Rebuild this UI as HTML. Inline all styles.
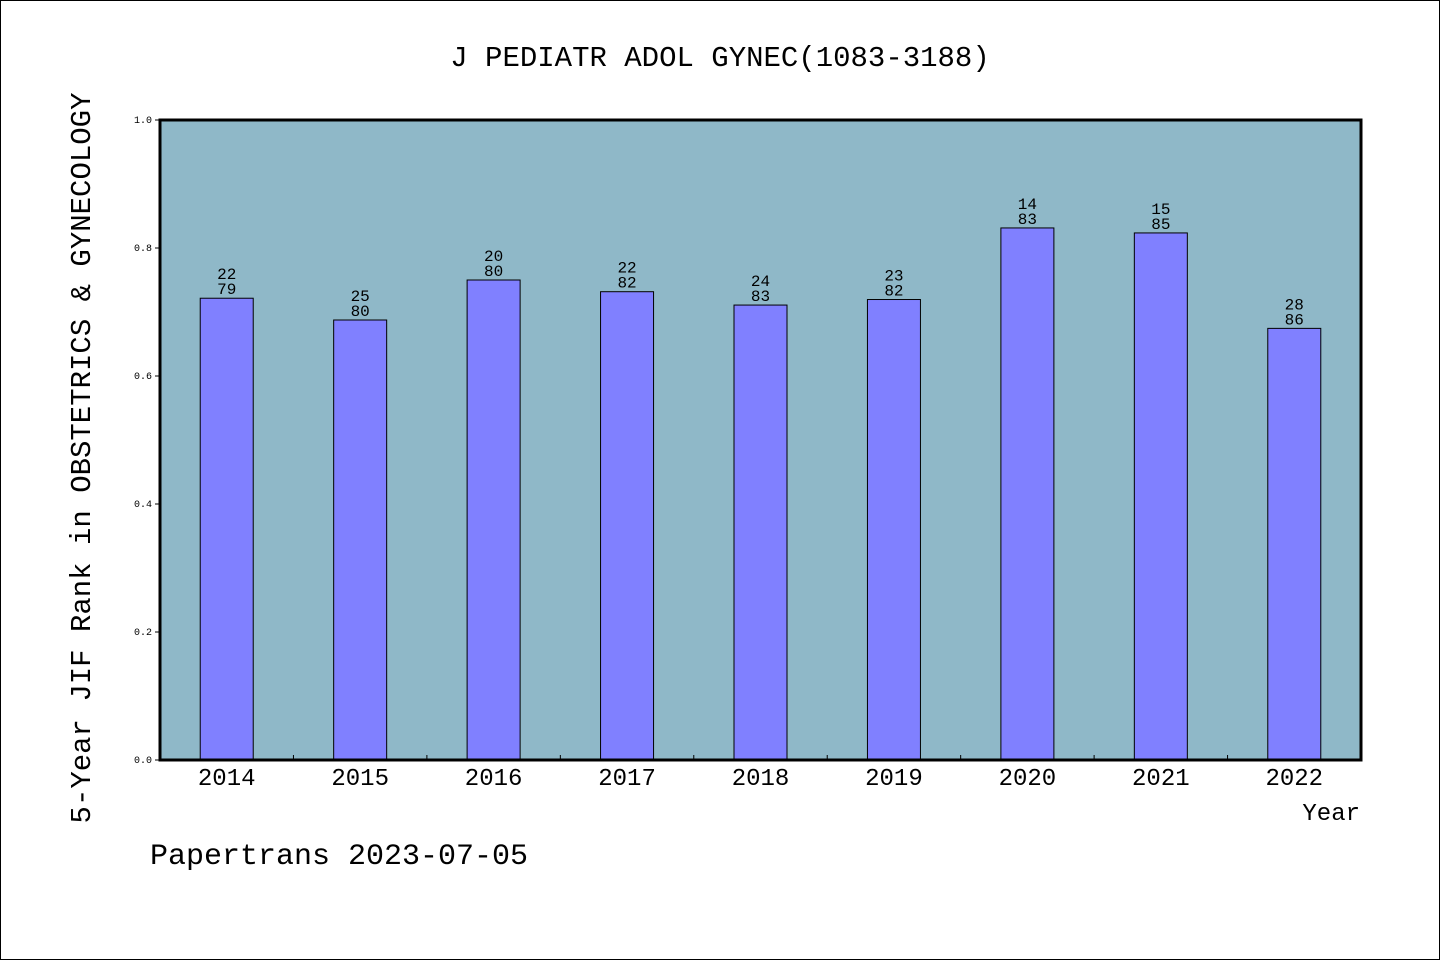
<!DOCTYPE html>
<html><head><meta charset="utf-8"><style>
html,body{margin:0;padding:0;background:#fff}
svg{display:block}
text{font-family:"Liberation Mono","DejaVu Sans Mono",monospace;fill:#000}
</style></head><body>
<svg id="chart" width="1440" height="960" xmlns="http://www.w3.org/2000/svg">
<rect x="0.5" y="0.5" width="1439" height="959" fill="#fff" stroke="#000"/>
<text x="720" y="66" text-anchor="middle" font-size="29">J PEDIATR ADOL GYNEC(1083-3188)</text>
<rect x="160" y="120" width="1201" height="640" fill="#8fb8c8"/>
<g id="bars"></g>
<g id="yticks"></g>
<g id="xticks"></g>
<rect x="160" y="120" width="1201" height="640" fill="none" stroke="#000" stroke-width="3"/>
<text transform="translate(90,458) rotate(-90)" text-anchor="middle" font-size="29">5-Year JIF Rank in OBSTETRICS &amp; GYNECOLOGY</text>
<text x="1360" y="820" text-anchor="end" font-size="24">Year</text>
<text x="150" y="864" font-size="30">Papertrans 2023-07-05</text>
</svg>
<script>
const years=["2014","2015","2016","2017","2018","2019","2020","2021","2022"];
const ranks=[22,25,20,22,24,23,14,15,28];
const totals=[79,80,80,82,83,82,83,85,86];
const yTicks=[0.0,0.2,0.4,0.6,0.8,1.0];
const NS="http://www.w3.org/2000/svg";
const X0=160,X1=1361,Y0=760,Y1=120;
const band=(X1-X0)/years.length;
const xC=i=>X0+band*(i+0.5);
const yS=v=>Y0-(Y0-Y1)*v;
function mk(t,a,p){const e=document.createElementNS(NS,t);for(const k in a)e.setAttribute(k,a[k]);p.appendChild(e);return e;}
const gb=document.getElementById('bars'),gy=document.getElementById('yticks'),gx=document.getElementById('xticks');
years.forEach((yr,i)=>{
 const v=1-ranks[i]/totals[i];
 const bw=53,x=xC(i)-bw/2,y=yS(v);
 const r=mk('rect',{x:x,y:y,width:bw,height:Y0-y,fill:'#8080ff',stroke:'#000','stroke-width':1},gb);
 
 
 const t1=mk('text',{x:xC(i),y:y-19,'text-anchor':'middle','font-size':16},gb);t1.textContent=ranks[i];
 
 
 const t2=mk('text',{x:xC(i),y:y-4,'text-anchor':'middle','font-size':16},gb);t2.textContent=totals[i];
 
 
 const xl=mk('text',{x:xC(i),y:785,'text-anchor':'middle','font-size':24,'font-family':'Liberation Sans, sans-serif'},gx);xl.textContent=yr;
 
 
 if(i>0){const tk=mk('line',{x1:X0+band*i,x2:X0+band*i,y1:Y0,y2:Y0-5,stroke:'#000'},gx);
 
 }
});
yTicks.forEach(v=>{
 const tk=mk('line',{x1:X0-5,x2:X0,y1:yS(v),y2:yS(v),stroke:'#000'},gy);
 
 
 const t=mk('text',{x:X0-8,y:yS(v)+3,'text-anchor':'end','font-size':10,'font-family':'Liberation Sans, sans-serif'},gy);t.textContent=v.toFixed(1);
 
 
});
</script>
</body></html>
